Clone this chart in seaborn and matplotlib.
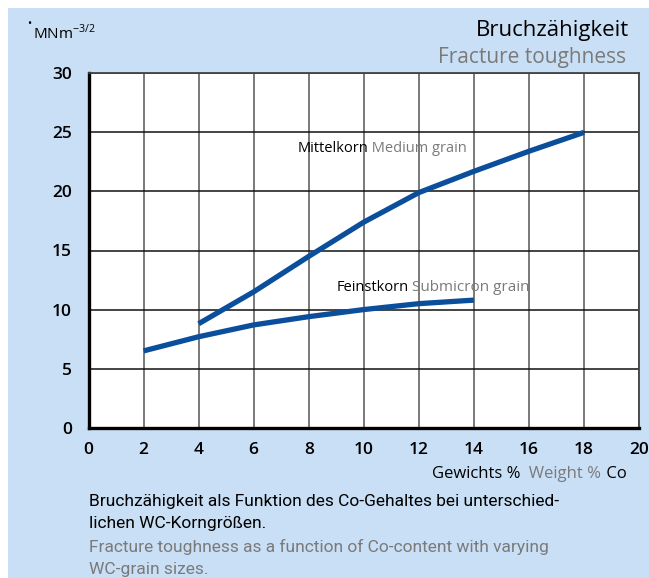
import matplotlib
matplotlib.use("Agg")
import matplotlib.pyplot as plt
from matplotlib.patches import Rectangle
import seaborn as sns
import pandas as pd

# Fracture toughness (MNm^-3/2) vs. cobalt content (weight %)
medium_co = [4, 6, 8, 10, 12, 14, 16, 18]
medium_k = [8.8, 11.5, 14.5, 17.4, 19.9, 21.7, 23.4, 25.0]
fine_co = [2, 4, 6, 8, 10, 12, 14]
fine_k = [6.5, 7.7, 8.7, 9.4, 10.0, 10.5, 10.8]

x_ticks = [0, 2, 4, 6, 8, 10, 12, 14, 16, 18, 20]
y_ticks = [0, 5, 10, 15, 20, 25, 30]

df = pd.concat([
    pd.DataFrame({"co": medium_co, "k": medium_k, "grain": "Mittelkorn"}),
    pd.DataFrame({"co": fine_co, "k": fine_k, "grain": "Feinstkorn"}),
])

sns.set_theme(style="white")
FONT = ["Open Sans", "DejaVu Sans"]
CAPFONT = ["Roboto", "DejaVu Sans"]
plt.rcParams["font.family"] = FONT

BG = "#c9dff5"
LINE = "#0b4f9c"
GREY = "#7a7a7a"

W, H = 649, 578
fig = plt.figure(figsize=(W / 100, H / 100), dpi=100, facecolor="white")
fig.patches.append(Rectangle((8 / W, 0), 1 - 8 / W, 1 - 8 / H,
                             transform=fig.transFigure, facecolor=BG,
                             edgecolor="none", zorder=-10))

ax = fig.add_axes([88.5 / W, 1 - 427.7 / H, (639 - 88.5) / W, (427.7 - 73.3) / H])
ax.set_facecolor("white")

sns.lineplot(data=df, x="co", y="k", units="grain", estimator=None,
             color=LINE, lw=3.8, ax=ax, legend=False, solid_capstyle="butt",
             zorder=3)

ax.set_xlim(0, 20)
ax.set_ylim(0, 30)
ax.set_xticks(x_ticks)
ax.set_yticks(y_ticks)
ax.set_xticklabels([str(v) for v in x_ticks])
ax.set_yticklabels([str(v) for v in y_ticks])
ax.set_xlabel("")
ax.set_ylabel("")

ax.grid(True, axis="x", color="#555555", lw=1.1)
ax.grid(True, axis="y", color="#111111", lw=1.1)
ax.set_axisbelow(True)

for side in ("top", "right"):
    ax.spines[side].set_color("#444444")
    ax.spines[side].set_linewidth(1.3)
for side in ("left", "bottom"):
    ax.spines[side].set_color("black")
    ax.spines[side].set_linewidth(2.4)

ax.tick_params(axis="both", length=0, labelsize=12.5, colors="black")
ax.tick_params(axis="y", pad=12)
ax.tick_params(axis="x", pad=10)
for lab in ax.get_xticklabels() + ax.get_yticklabels():
    lab.set_fontweight("semibold")
# only the origin carries visible tick marks
xt0 = ax.xaxis.get_major_ticks()[0]
xt0.tick1line.set_markersize(8)
xt0.tick1line.set_markeredgewidth(2.4)
yt0 = ax.yaxis.get_major_ticks()[0]
yt0.tick1line.set_markersize(8)
yt0.tick1line.set_markeredgewidth(2.4)

# series labels
ax.annotate("Mittelkorn", xy=(7.6, 23.3), fontsize=10.5, color="black",
            ha="left", va="baseline")
ax.annotate(" Medium grain", xy=(1, 0), xycoords=ax.texts[-1],
            fontsize=10.5, color=GREY, ha="left", va="bottom")
ax.annotate("Feinstkorn", xy=(9.0, 11.6), fontsize=10.5, color="black",
            ha="left", va="baseline")
ax.annotate(" Submicron grain", xy=(1, 0), xycoords=ax.texts[-1],
            fontsize=11, color=GREY, ha="left", va="bottom")

# title
fig.text(629 / W, 1 - 36 / H, "Bruchzähigkeit", fontsize=16, color="black",
         ha="right", va="baseline")
fig.text(626 / W, 1 - 63 / H, "Fracture toughness", fontsize=15, color=GREY,
         ha="right", va="baseline")

# unit label
fig.text(27.5 / W, 1 - 26.5 / H, "•", fontsize=8, color="black", ha="left", va="baseline")
fig.text(33 / W, 1 - 39 / H, r"MNm$^{\mathregular{-3/2}}$", fontsize=11,
         color="black", ha="left", va="baseline")

# x-axis label
xl1 = fig.text(432 / W, 1 - 478 / H, "Gewichts %", fontsize=12, color="black",
               ha="left", va="baseline")
xl2 = ax.annotate("  Weight %", xy=(1, 0), xycoords=xl1, fontsize=12,
                  color=GREY, ha="left", va="bottom", annotation_clip=False)
ax.annotate(" Co", xy=(1, 0), xycoords=xl2, fontsize=12, color="black",
            ha="left", va="bottom", annotation_clip=False)

# caption
cap_x = 89 / W
cap = dict(fontsize=12.5, ha="left", va="baseline", family=CAPFONT)
fig.text(cap_x, 1 - 506 / H, "Bruchzähigkeit als Funktion des Co-Gehaltes bei unterschied-",
         color="black", **cap)
fig.text(cap_x, 1 - 528 / H, "lichen WC-Korngrößen.", color="black", **cap)
fig.text(cap_x, 1 - 552 / H, "Fracture toughness as a function of Co-content with varying",
         color=GREY, **cap)
fig.text(cap_x, 1 - 574 / H, "WC-grain sizes.", color=GREY, **cap)

fig.savefig("out.png", dpi=100, facecolor=fig.get_facecolor())
